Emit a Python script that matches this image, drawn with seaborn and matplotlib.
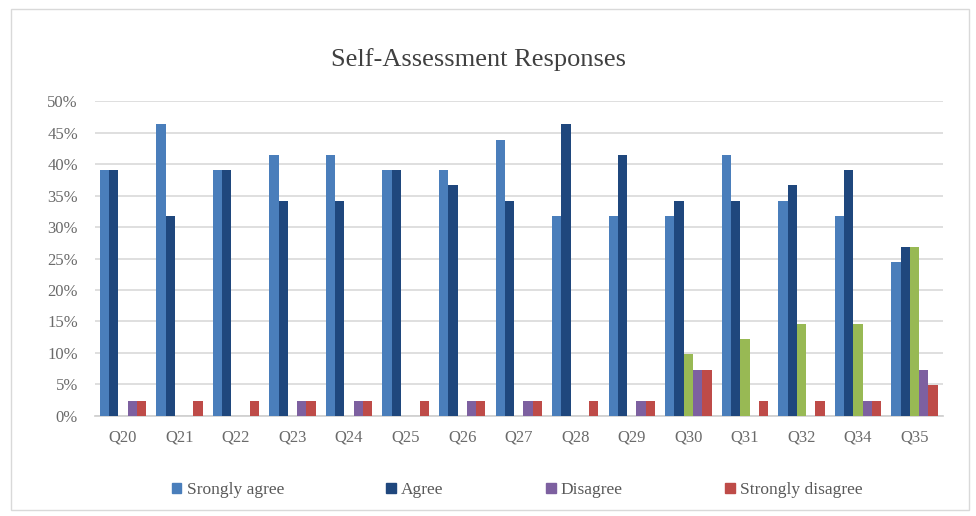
import matplotlib
matplotlib.use("Agg")
import matplotlib.pyplot as plt
import matplotlib.patches as mpatches
import seaborn as sns
import pandas as pd

questions = ["Q20", "Q21", "Q22", "Q23", "Q24", "Q25", "Q26", "Q27",
             "Q28", "Q29", "Q30", "Q31", "Q32", "Q34", "Q35"]
strongly_agree = [39.0, 46.3, 39.0, 41.5, 41.5, 39.0, 39.0, 43.9,
                  31.7, 31.7, 31.7, 41.5, 34.1, 31.7, 24.4]
agree = [39.0, 31.7, 39.0, 34.1, 34.1, 39.0, 36.6, 34.1,
         46.3, 41.5, 34.1, 34.1, 36.6, 39.0, 26.8]
neutral = [0, 0, 0, 0, 0, 0, 0, 0, 0, 0, 9.8, 12.2, 14.6, 14.6, 26.8]
disagree = [2.4, 0, 0, 2.4, 2.4, 0, 2.4, 2.4, 0, 2.4, 7.3, 0, 0, 2.4, 7.3]
strongly_disagree = [2.4, 2.4, 2.4, 2.4, 2.4, 2.4, 2.4, 2.4,
                     2.4, 2.4, 7.3, 2.4, 2.4, 2.4, 4.9]
series_names = ["Srongly agree", "Agree", "Neutral", "Disagree", "Strongly disagree"]
colors = ["#4a7ebb", "#1f477d", "#98b954", "#7d60a0", "#be4b48"]

rows = []
for name, vals in zip(series_names, [strongly_agree, agree, neutral, disagree, strongly_disagree]):
    for q, v in zip(questions, vals):
        rows.append({"Question": q, "Series": name, "Value": v / 100.0})
df = pd.DataFrame(rows)

sns.set_theme(style="white")
plt.rcParams["font.family"] = ["Liberation Serif", "DejaVu Serif"]

fig = plt.figure(figsize=(9.76, 5.16), dpi=100)
ax = fig.add_axes([0.097, 0.194, 0.869, 0.610])

sns.barplot(data=df, x="Question", y="Value", hue="Series", order=questions,
            hue_order=series_names, palette=colors, width=0.82, ax=ax,
            saturation=1, legend=False, linewidth=0, zorder=3)

ax.set_ylim(0, 0.5)
ax.set_xlim(-0.5, 14.5)
ax.set_yticks([i * 0.05 for i in range(11)])
ax.set_yticklabels([f"{i*5}%" for i in range(11)])
ax.yaxis.grid(True, color="#d9d9d9", linewidth=1.2, zorder=0)
ax.set_axisbelow(True)
for s in ["top", "right", "left"]:
    ax.spines[s].set_visible(False)
ax.spines["bottom"].set_color("#d0d0d0")
ax.set_xlabel("")
ax.set_ylabel("")
ax.tick_params(axis="x", colors="#6a6a6a", labelsize=12, length=0, pad=10)
ax.tick_params(axis="y", colors="#6a6a6a", labelsize=12, length=0, pad=12)

fig.text(0.49, 0.885, "Self-Assessment Responses", ha="center", va="center",
         fontsize=19, color="#404040")

legend_items = [(series_names[0], colors[0]), (series_names[1], colors[1]),
                (series_names[3], colors[3]), (series_names[4], colors[4])]
handles = [mpatches.Patch(color=c, label=n) for n, c in legend_items]
leg = fig.legend(handles=handles, loc="center", bbox_to_anchor=(0.53, 0.05), ncol=4,
                 frameon=False, fontsize=12.5, handlelength=0.55, handleheight=0.55,
                 handletextpad=0.3, columnspacing=5.9)
for t in leg.get_texts():
    t.set_color("#595959")

border = mpatches.Rectangle((0.011, 0.012), 0.982, 0.97, transform=fig.transFigure,
                            fill=False, edgecolor="#d9d9d9", linewidth=1)
fig.patches.append(border)

fig.savefig("out.png", dpi=100)
